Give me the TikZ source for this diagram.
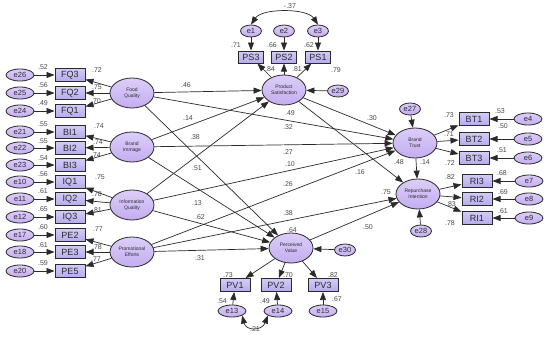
\documentclass[tikz,border=0pt]{standalone}
\usepackage{fontspec}
\setmainfont{Liberation Sans}
\usetikzlibrary{shapes.geometric,arrows.meta}
\definecolor{lattop}{HTML}{DCCDFA}
\definecolor{latbot}{HTML}{C3AEF0}
\definecolor{boxtop}{HTML}{D2CCF6}
\definecolor{boxbot}{HTML}{B7ABEC}
\definecolor{inkgray}{HTML}{2A2A2A}
\definecolor{numgray}{HTML}{4A4A4A}
\tikzset{
  latent/.style={draw=inkgray, ellipse, line width=0.8pt, top color=lattop, bottom color=latbot, minimum width=44pt, minimum height=30pt, inner sep=0pt, align=center, font=\fontsize{5}{5.6}\selectfont, text=inkgray},
  indic/.style={draw=inkgray, rectangle, line width=1pt, top color=boxtop, bottom color=boxbot, minimum width=30pt, minimum height=13pt, inner sep=0pt, font=\fontsize{9}{10}\selectfont, text=inkgray},
  small indic/.style={indic, minimum width=25pt, minimum height=12pt},
  errnode/.style={draw=inkgray, ellipse, line width=0.8pt, top color=lattop, bottom color=latbot, minimum width=28pt, minimum height=12pt, inner sep=0pt, font=\fontsize{7.5}{8}\selectfont, text=inkgray},
  small err/.style={errnode, minimum width=21pt},
  effect/.style={draw=inkgray, line width=0.7pt, -{Triangle[length=8pt,width=6pt]}},
  covar/.style={draw=inkgray, line width=0.7pt, {Triangle[length=8pt,width=6pt]}-{Triangle[length=8pt,width=6pt]}},
  est/.style={inner sep=0pt, font=\fontsize{7}{8}\selectfont, text=numgray}
}
\begin{document}
\begin{tikzpicture}[x=1pt, y=-1pt]
\useasboundingbox[fill=white] (0,0) rectangle (550,338);

\node[latent] (fq) at (132,93) {Food\\Quality};
\node[latent] (bi) at (132,147) {Brand\\Immage};
\node[latent] (iq) at (132,205) {Information\\Quality};
\node[latent] (pe) at (132,252) {Promotional\\Efforts};
\node[latent] (ps) at (284,90) {Product\\Satisfaction};
\node[latent] (pv) at (291,248) {Perceived\\Value};
\node[latent] (bt) at (415,143) {Brand\\Trust};
\node[latent] (ri) at (418,194) {Repurchase\\Intention};

\node[indic] (fq3) at (70,75) {FQ3};
\node[indic] (fq2) at (70,93) {FQ2};
\node[indic] (fq1) at (70,111) {FQ1};
\node[indic] (bi1) at (70,132) {BI1};
\node[indic] (bi2) at (70,148) {BI2};
\node[indic] (bi3) at (70,165) {BI3};
\node[indic] (iq1) at (70,182) {IQ1};
\node[indic] (iq2) at (70,199) {IQ2};
\node[indic] (iq3) at (70,217) {IQ3};
\node[indic] (pe2) at (70,235) {PE2};
\node[indic] (pe3) at (70,252) {PE3};
\node[indic] (pe5) at (70,271) {PE5};

\node[errnode] (e26) at (20,75) {e26};
\node[errnode] (e25) at (20,93) {e25};
\node[errnode] (e24) at (20,111) {e24};
\node[errnode] (e21) at (20,132) {e21};
\node[errnode] (e22) at (20,148) {e22};
\node[errnode] (e23) at (20,165) {e23};
\node[errnode] (e10) at (20,182) {e10};
\node[errnode] (e11) at (20,199) {e11};
\node[errnode] (e12) at (20,217) {e12};
\node[errnode] (e17) at (20,235) {e17};
\node[errnode] (e18) at (20,252) {e18};
\node[errnode] (e20) at (20,271) {e20};

\node[small indic] (ps3) at (251,57) {PS3};
\node[small indic] (ps2) at (284,57) {PS2};
\node[small indic] (ps1) at (318,57) {PS1};
\node[small err] (e1) at (251,31) {e1};
\node[small err] (e2) at (284,31) {e2};
\node[small err] (e3) at (318,31) {e3};
\node[small err] (e29) at (338,91) {e29};

\node[indic] (bt1) at (474,119) {BT1};
\node[indic] (bt2) at (474,139) {BT2};
\node[indic] (bt3) at (474,158) {BT3};
\node[indic] (ri3) at (477,181) {RI3};
\node[indic] (ri2) at (477,199) {RI2};
\node[indic] (ri1) at (477,218) {RI1};
\node[errnode] (e4) at (528,119) {e4};
\node[errnode] (e5) at (528,139) {e5};
\node[errnode] (e6) at (528,158) {e6};
\node[errnode] (e7) at (529,181) {e7};
\node[errnode] (e8) at (529,199) {e8};
\node[errnode] (e9) at (529,218) {e9};
\node[small err] (e27) at (410,109) {e27};
\node[small err] (e28) at (421,231) {e28};

\node[indic] (pv1) at (235,285) {PV1};
\node[indic] (pv2) at (276,285) {PV2};
\node[indic] (pv3) at (323,285) {PV3};
\node[errnode] (e13) at (232,311) {e13};
\node[errnode] (e14) at (278,311) {e14};
\node[errnode] (e15) at (323,311) {e15};
\node[small err] (e30) at (345,250) {e30};

\draw[effect] (fq) -- (fq3);
\draw[effect] (fq) -- (fq2);
\draw[effect] (fq) -- (fq1);
\draw[effect] (bi) -- (bi1);
\draw[effect] (bi) -- (bi2);
\draw[effect] (bi) -- (bi3);
\draw[effect] (iq) -- (iq1);
\draw[effect] (iq) -- (iq2);
\draw[effect] (iq) -- (iq3);
\draw[effect] (pe) -- (pe2);
\draw[effect] (pe) -- (pe3);
\draw[effect] (pe) -- (pe5);
\draw[effect] (e26) -- (fq3);
\draw[effect] (e25) -- (fq2);
\draw[effect] (e24) -- (fq1);
\draw[effect] (e21) -- (bi1);
\draw[effect] (e22) -- (bi2);
\draw[effect] (e23) -- (bi3);
\draw[effect] (e10) -- (iq1);
\draw[effect] (e11) -- (iq2);
\draw[effect] (e12) -- (iq3);
\draw[effect] (e17) -- (pe2);
\draw[effect] (e18) -- (pe3);
\draw[effect] (e20) -- (pe5);

\draw[effect] (ps) -- (ps3);
\draw[effect] (ps) -- (ps2);
\draw[effect] (ps) -- (ps1);
\draw[effect] (e1) -- (ps3);
\draw[effect] (e2) -- (ps2);
\draw[effect] (e3) -- (ps1);
\draw[effect] (e29) -- (ps);
\draw[covar] (e1.north) .. controls (262,8) and (307,8) .. (e3.north);

\draw[effect] (bt) -- (bt1);
\draw[effect] (bt) -- (bt2);
\draw[effect] (bt) -- (bt3);
\draw[effect] (ri) -- (ri3);
\draw[effect] (ri) -- (ri2);
\draw[effect] (ri) -- (ri1);
\draw[effect] (e4) -- (bt1);
\draw[effect] (e5) -- (bt2);
\draw[effect] (e6) -- (bt3);
\draw[effect] (e7) -- (ri3);
\draw[effect] (e8) -- (ri2);
\draw[effect] (e9) -- (ri1);
\draw[effect] (e27) -- (bt);
\draw[effect] (e28) -- (ri);

\draw[effect] (pv) -- (pv1);
\draw[effect] (pv) -- (pv2);
\draw[effect] (pv) -- (pv3);
\draw[effect] (e13) -- (pv1);
\draw[effect] (e14) -- (pv2);
\draw[effect] (e15) -- (pv3);
\draw[effect] (e30) -- (pv);
\draw[covar] (e13.south east) .. controls (246,331) and (262,331) .. (e14.south west);

\draw[effect] (fq) -- (ps);
\draw[effect] (fq) -- (bt);
\draw[effect] (fq) -- (pv);
\draw[effect] (bi) -- (ps);
\draw[effect] (bi) -- (bt);
\draw[effect] (bi) -- (pv);
\draw[effect] (iq) -- (ps);
\draw[effect] (iq) -- (bt);
\draw[effect] (iq) -- (pv);
\draw[effect] (pe) -- (bt);
\draw[effect] (pe) -- (ri);
\draw[effect] (pe) -- (pv);
\draw[effect] (ps) -- (bt);
\draw[effect] (ps) -- (ri);
\draw[effect] (bt) -- (ri);
\draw[effect] (pv) -- (ri);

\node[est] (r26) at (43,67) {.52};
\node[est] (r25) at (43,85) {.56};
\node[est] (r24) at (43,103) {.49};
\node[est] (r21) at (43,124) {.55};
\node[est] (r22) at (43,141) {.55};
\node[est] (r23) at (43,158) {.54};
\node[est] (r10) at (43,174) {.56};
\node[est] (r11) at (43,191) {.61};
\node[est] (r12) at (43,209) {.65};
\node[est] (r17) at (43,227) {.60};
\node[est] (r18) at (43,245) {.61};
\node[est] (r20) at (43,263) {.59};
\node[est] (w26) at (97,70) {.72};
\node[est] (w25) at (97,87) {.75};
\node[est] (w24) at (96,101) {.70};
\node[est] (w21) at (99,126) {.74};
\node[est] (w22) at (98,142) {.74};
\node[est] (w23) at (96,155) {.74};
\node[est] (w10) at (100,177) {.75};
\node[est] (w11) at (97,194) {.78};
\node[est] (w12) at (97,210) {.81};
\node[est] (w17) at (98,229) {.77};
\node[est] (w18) at (97,247) {.78};
\node[est] (w20) at (96,259) {.77};

\node[est] (r1) at (236,45) {.71};
\node[est] (r2) at (272,45) {.66};
\node[est] (r3) at (309,45) {.62};
\node[est] (w1) at (270,69) {.84};
\node[est] (w2) at (297,69) {.81};
\node[est] (w3) at (336,70) {.79};
\node[est] (c13) at (290,6) {-.37};
\node[est] (rps) at (290,113) {.49};

\node[est] (w4) at (449,115) {.73};
\node[est] (w5) at (449,134) {.71};
\node[est] (w6) at (450,163) {.72};
\node[est] (r4) at (500,111) {.53};
\node[est] (r5) at (503,126) {.50};
\node[est] (r6) at (502,150) {.51};
\node[est] (w7) at (450,177) {.82};
\node[est] (w8) at (451,204) {.83};
\node[est] (w9) at (450,223) {.78};
\node[est] (r7) at (502,173) {.68};
\node[est] (r8) at (503,192) {.69};
\node[est] (r9) at (503,211) {.61};
\node[est] (rbt) at (399,162) {.48};
\node[est] (rri) at (386,192) {.75};

\node[est] (w13) at (228,275) {.73};
\node[est] (w14) at (288,275) {.70};
\node[est] (w15) at (333,275) {.82};
\node[est] (r13) at (222,301) {.54};
\node[est] (r14) at (265,301) {.49};
\node[est] (r15) at (337,299) {.67};
\node[est] (c1314) at (255,329) {.21};
\node[est] (rpv) at (292,230) {.64};

\node[est] (fqps) at (186,85) {.46};
\node[est] (bips) at (188,118) {.14};
\node[est] (fqpv) at (195,137) {.38};
\node[est] (iqps) at (197,168) {.51};
\node[est] (fqbt) at (288,127) {.32};
\node[est] (bibt) at (288,152) {.27};
\node[est] (iqbt) at (290,164) {.10};
\node[est] (bipv) at (197,203) {.13};
\node[est] (iqpv) at (200,217) {.62};
\node[est] (pebt) at (288,184) {.26};
\node[est] (peri) at (288,213) {.38};
\node[est] (pepv) at (200,258) {.31};
\node[est] (psbt) at (372,118) {.30};
\node[est] (psri) at (360,172) {.16};
\node[est] (btri) at (425,162) {.14};
\node[est] (pvri) at (368,227) {.50};
\end{tikzpicture}
\end{document}
